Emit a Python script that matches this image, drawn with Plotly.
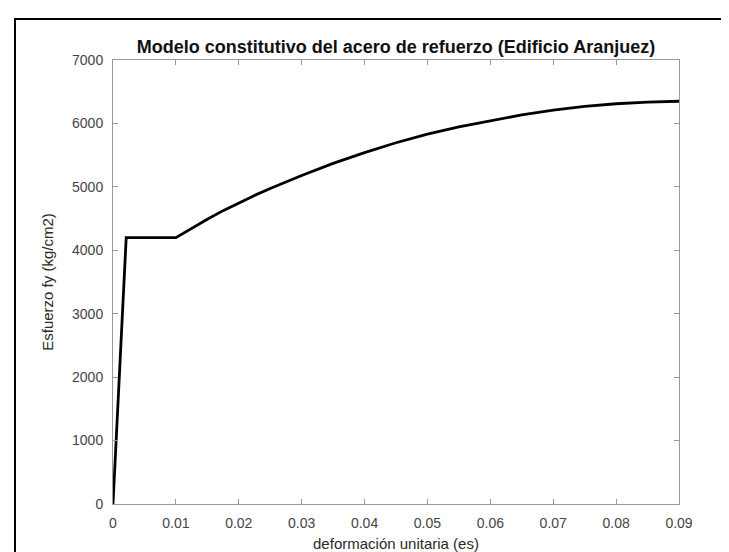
import plotly.graph_objects as go

# Data
strain = [0.0, 0.0021, 0.010, 0.0125, 0.015, 0.0175, 0.020, 0.0225, 0.025, 0.030,
          0.035, 0.040, 0.045, 0.050, 0.055, 0.060, 0.065, 0.070, 0.075, 0.080,
          0.085, 0.090]
stress = [0, 4200, 4200, 4350, 4490, 4625, 4750, 4865, 4975, 5180,
          5370, 5540, 5695, 5830, 5945, 6045, 6135, 6210, 6268, 6310,
          6337, 6350]

x_ticks = [0, 0.01, 0.02, 0.03, 0.04, 0.05, 0.06, 0.07, 0.08, 0.09]
x_tick_labels = ["0", "0.01", "0.02", "0.03", "0.04", "0.05", "0.06", "0.07", "0.08", "0.09"]
y_ticks = [0, 1000, 2000, 3000, 4000, 5000, 6000, 7000]

W, H = 729, 552
ML, MR, MT, MB = 105, 58, 52, 56
PW, PH = W - ML - MR, H - MT - MB

def px(x):
    return (x - ML) / PW

def py(y):
    return (H - MB - y) / PH

FONT = "Liberation Sans, Arial, sans-serif"

fig = go.Figure()
fig.add_trace(go.Scatter(x=strain, y=stress, mode="lines",
                         line=dict(color="black", width=2.8),
                         showlegend=False, hoverinfo="skip"))

axis_common = dict(showgrid=False, zeroline=False, showline=True, linecolor="#9a9a9a",
                   linewidth=1, ticks="inside", ticklen=5, tickcolor="#9a9a9a",
                   mirror="ticks", ticklabelstandoff=6,
                   tickfont=dict(family=FONT, size=14, color="#444444"))

fig.update_layout(
    width=W, height=H,
    margin=dict(l=ML, r=MR, t=MT, b=MB),
    paper_bgcolor="white", plot_bgcolor="white",
    title=dict(text="<b>Modelo constitutivo del acero de refuerzo (Edificio Aranjuez)</b>",
               x=px(ML + PW / 2), xref="paper", xanchor="center",
               y=1 - 39 / H, yref="container", yanchor="middle",
               font=dict(family=FONT, size=18, color="#111111")),
    xaxis=dict(range=[0, 0.09], tickvals=x_ticks, ticktext=x_tick_labels,
               title=dict(text="deformación unitaria (es)", standoff=8,
                          font=dict(family=FONT, size=15, color="#2a2a2a")),
               **axis_common),
    yaxis=dict(range=[0, 7000], tickvals=y_ticks,
               title=dict(text="Esfuerzo fy (kg/cm2)", standoff=14,
                          font=dict(family=FONT, size=15, color="#2a2a2a")),
               **axis_common),
    shapes=[dict(type="rect", xref="paper", yref="paper",
                 x0=px(7), x1=px(740), y0=py(565), y1=py(11),
                 line=dict(color="black", width=2), fillcolor="rgba(0,0,0,0)", layer="below")],
)

fig.write_html("out.html")
